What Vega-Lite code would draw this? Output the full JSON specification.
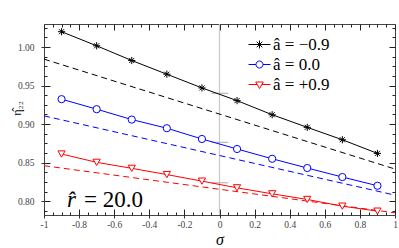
{
  "$schema": "https://vega.github.io/schema/vega-lite/v6.json",
  "width": 351,
  "height": 191,
  "autosize": {"type": "none"},
  "padding": {"left": 44, "top": 24, "right": 4, "bottom": 33},
  "background": "white",
  "config": {
    "view": {"stroke": "#444", "strokeWidth": 1},
    "axis": {"labelFont": "Liberation Serif", "titleFont": "Liberation Serif", "labelColor": "#444", "grid": false, "domain": false, "tickColor": "#333", "tickWidth": 1, "ticks": true, "zindex": 1}
  },
  "resolve": {"axis": {"x": "independent", "y": "independent"}, "scale": {"shape": "independent", "color": "independent"}},
  "datasets": {
    "curves": [
      {"series": "â = −0.9", "sigma": -0.9, "eta": 1.020},
      {"series": "â = −0.9", "sigma": -0.7, "eta": 1.0017},
      {"series": "â = −0.9", "sigma": -0.5, "eta": 0.9826},
      {"series": "â = −0.9", "sigma": -0.3, "eta": 0.9648},
      {"series": "â = −0.9", "sigma": -0.1, "eta": 0.947},
      {"series": "â = −0.9", "sigma": 0.1, "eta": 0.9305},
      {"series": "â = −0.9", "sigma": 0.3, "eta": 0.9122},
      {"series": "â = −0.9", "sigma": 0.5, "eta": 0.8958},
      {"series": "â = −0.9", "sigma": 0.7, "eta": 0.8797},
      {"series": "â = −0.9", "sigma": 0.9, "eta": 0.862},
      {"series": "â = 0.0", "sigma": -0.9, "eta": 0.9324},
      {"series": "â = 0.0", "sigma": -0.7, "eta": 0.9194},
      {"series": "â = 0.0", "sigma": -0.5, "eta": 0.9059},
      {"series": "â = 0.0", "sigma": -0.3, "eta": 0.8947},
      {"series": "â = 0.0", "sigma": -0.1, "eta": 0.8807},
      {"series": "â = 0.0", "sigma": 0.1, "eta": 0.8677},
      {"series": "â = 0.0", "sigma": 0.3, "eta": 0.855},
      {"series": "â = 0.0", "sigma": 0.5, "eta": 0.843},
      {"series": "â = 0.0", "sigma": 0.7, "eta": 0.8313},
      {"series": "â = 0.0", "sigma": 0.9, "eta": 0.820},
      {"series": "â = +0.9", "sigma": -0.9, "eta": 0.8612},
      {"series": "â = +0.9", "sigma": -0.7, "eta": 0.8504},
      {"series": "â = +0.9", "sigma": -0.5, "eta": 0.8426},
      {"series": "â = +0.9", "sigma": -0.3, "eta": 0.8345},
      {"series": "â = +0.9", "sigma": -0.1, "eta": 0.826},
      {"series": "â = +0.9", "sigma": 0.1, "eta": 0.8173},
      {"series": "â = +0.9", "sigma": 0.3, "eta": 0.8095},
      {"series": "â = +0.9", "sigma": 0.5, "eta": 0.8022},
      {"series": "â = +0.9", "sigma": 0.7, "eta": 0.7935},
      {"series": "â = +0.9", "sigma": 0.9, "eta": 0.787}
    ],
    "approx": [
      {"series": "â = −0.9", "sigma": -1, "eta": 0.9844},
      {"series": "â = −0.9", "sigma": 1, "eta": 0.8417},
      {"series": "â = 0.0", "sigma": -1, "eta": 0.9107},
      {"series": "â = 0.0", "sigma": 1, "eta": 0.8078},
      {"series": "â = +0.9", "sigma": -1, "eta": 0.846},
      {"series": "â = +0.9", "sigma": 1, "eta": 0.7848}
    ],
    "marks0": [
      {"a": -0.045, "b": 0.05, "eta": 0.9401},
      {"a": -0.045, "b": 0.05, "eta": 0.8764},
      {"a": -0.045, "b": 0.05, "eta": 0.8238}
    ],
    "zero": [{"sigma": 0}]
  },
  "layer": [
    {
      "data": {"name": "zero"},
      "mark": {"type": "rule", "color": "#c8c8c8", "strokeWidth": 1.2},
      "encoding": {
        "x": {"field": "sigma", "type": "quantitative", "scale": {"domain": [-1, 1], "nice": false, "zero": false}, "axis": null}
      }
    },
    {
      "data": {"name": "marks0"},
      "mark": {"type": "rule", "color": "#aaaaaa", "strokeWidth": 1},
      "encoding": {
        "x": {"field": "a", "type": "quantitative",
          "axis": {"orient": "bottom", "values": [-1,-0.8,-0.6,-0.4,-0.2,0,0.2,0.4,0.6,0.8,1], "ticks": true, "tickSize": 3, "tickColor": "#333",
            "labelExpr": "replace(format(datum.value, '.1~f'), '\u2212', '-')",
            "labelFontSize": 9.5, "labelPadding": 1, "labelOverlap": false, "labelFlush": false,
            "title": "σ", "titleFontSize": 16, "titleFontStyle": "italic", "titleFontWeight": "normal", "titleColor": "#000", "titlePadding": 3}},
        "x2": {"field": "b"},
        "y": {"field": "eta", "type": "quantitative", "scale": {"domain": [0.782, 1.03], "nice": false, "zero": false},
          "axis": {"orient": "left", "values": [0.8, 0.85, 0.9, 0.95, 1.0], "ticks": true, "tickSize": 3, "tickColor": "#333", "format": ".2f",
            "labelFontSize": 9.5, "labelPadding": 7, "labelOverlap": false, "labelFlush": false,
            "title": "η̂₂₂", "titleFontSize": 12, "titleFontWeight": "normal", "titleColor": "#000", "titleX": -21, "titleY": 84}}
      }
    },
    {
      "data": {"name": "approx"},
      "mark": {"type": "line", "strokeWidth": 1, "strokeDash": [6, 4]},
      "encoding": {
        "x": {"field": "sigma", "type": "quantitative",
          "axis": {"orient": "bottom", "values": [-1,-0.8,-0.6,-0.4,-0.2,0,0.2,0.4,0.6,0.8,1], "labels": false, "title": null, "ticks": true, "tickSize": 6, "offset": -6, "tickColor": "#222"}},
        "y": {"field": "eta", "type": "quantitative",
          "axis": {"orient": "left", "values": [0.8, 0.85, 0.9, 0.95, 1.0], "labels": false, "title": null, "ticks": true, "tickSize": 6, "offset": -6, "tickColor": "#222"}},
        "color": {"field": "series", "type": "nominal",
          "scale": {"domain": ["â = −0.9", "â = 0.0", "â = +0.9"], "range": ["#000000", "#0000ff", "#ff0000"]}, "legend": null},
        "detail": {"field": "series"}
      }
    },
    {
      "data": {"name": "curves"},
      "mark": {"type": "line", "strokeWidth": 1},
      "encoding": {
        "x": {"field": "sigma", "type": "quantitative",
          "axis": {"orient": "bottom", "values": [-0.95,-0.9,-0.85,-0.75,-0.7,-0.65,-0.55,-0.5,-0.45,-0.35,-0.3,-0.25,-0.15,-0.1,-0.05,0.05,0.1,0.15,0.25,0.3,0.35,0.45,0.5,0.55,0.65,0.7,0.75,0.85,0.9,0.95], "labels": false, "title": null, "ticks": true, "tickSize": 3, "offset": -3, "tickColor": "#222"}},
        "y": {"field": "eta", "type": "quantitative",
          "axis": {"orient": "left", "values": [0.7875,0.8125,0.825,0.8375,0.8625,0.875,0.8875,0.9125,0.925,0.9375,0.9625,0.975,0.9875,1.0125,1.025], "labels": false, "title": null, "ticks": true, "tickSize": 3, "offset": -3, "tickColor": "#222"}},
        "color": {"field": "series", "type": "nominal",
          "scale": {"domain": ["â = −0.9", "â = 0.0", "â = +0.9"], "range": ["#000000", "#0000ff", "#ff0000"]}, "legend": null},
        "detail": {"field": "series"}
      }
    },
    {
      "data": {"name": "curves"},
      "mark": {"type": "point", "filled": false, "fill": "white", "size": 52, "strokeWidth": 1, "opacity": 1},
      "encoding": {
        "x": {"field": "sigma", "type": "quantitative",
          "axis": {"orient": "top", "values": [-1,-0.8,-0.6,-0.4,-0.2,0,0.2,0.4,0.6,0.8,1], "labels": false, "title": null, "ticks": true, "tickSize": 6, "offset": -6, "tickColor": "#222"}},
        "y": {"field": "eta", "type": "quantitative",
          "axis": {"orient": "right", "values": [0.8, 0.85, 0.9, 0.95, 1.0], "labels": false, "title": null, "ticks": true, "tickSize": 6, "offset": -6, "tickColor": "#222"}},
        "color": {"field": "series", "type": "nominal",
          "scale": {"domain": ["â = −0.9", "â = 0.0", "â = +0.9"], "range": ["#000000", "#0000ff", "#ff0000"]},
          "legend": null},
        "shape": {"field": "series", "type": "nominal",
          "scale": {"domain": ["â = −0.9", "â = 0.0", "â = +0.9"], "range": ["M-1,0L1,0M0,-1L0,1M-0.7,-0.7L0.7,0.7M-0.7,0.7L0.7,-0.7", "circle", "triangle-down"]},
          "legend": null}
      }
    },
    {
      "data": {"name": "curves"},
      "mark": {"type": "point", "filled": false, "size": 400, "strokeWidth": 1, "opacity": 0},
      "encoding": {
        "x": {"field": "sigma", "type": "quantitative",
          "axis": {"orient": "top", "values": [-0.95,-0.9,-0.85,-0.75,-0.7,-0.65,-0.55,-0.5,-0.45,-0.35,-0.3,-0.25,-0.15,-0.1,-0.05,0.05,0.1,0.15,0.25,0.3,0.35,0.45,0.5,0.55,0.65,0.7,0.75,0.85,0.9,0.95], "labels": false, "title": null, "ticks": true, "tickSize": 3, "offset": -3, "tickColor": "#222"}},
        "y": {"field": "eta", "type": "quantitative",
          "axis": {"orient": "right", "values": [0.7875,0.8125,0.825,0.8375,0.8625,0.875,0.8875,0.9125,0.925,0.9375,0.9625,0.975,0.9875,1.0125,1.025], "labels": false, "title": null, "ticks": true, "tickSize": 3, "offset": -3, "tickColor": "#222"}},
        "color": {"field": "series", "type": "nominal",
          "scale": {"domain": ["â = −0.9", "â = 0.0", "â = +0.9"], "range": ["#000000", "#0000ff", "#ff0000"]},
          "legend": {"orient": "none", "legendX": 205, "legendY": 10, "title": null, "padding": 0,
            "labelFont": "Liberation Serif", "labelFontSize": 17, "labelColor": "#000", "labelOffset": 3,
            "symbolSize": 400, "symbolStrokeWidth": 1, "symbolOpacity": 1, "rowPadding": 1}},
        "shape": {"field": "series", "type": "nominal",
          "scale": {"domain": ["â = −0.9", "â = 0.0", "â = +0.9"], "range": [
            "M-1.1,0L1.1,0M0,-0.4L0,0.4M-0.28,-0.28L0.28,0.28M-0.28,0.28L0.28,-0.28",
            "M-1.1,0L-0.35,0M0.35,0L1.1,0M0.35,0A0.35,0.35 0 1,1 -0.35,0A0.35,0.35 0 1,1 0.35,0",
            "M-1.1,0L-0.234,0M0.234,0L1.1,0M-0.38,-0.25L0.38,-0.25L0,0.4Z"]},
          "legend": {"orient": "none", "legendX": 205, "legendY": 10, "title": null, "padding": 0,
            "labelFont": "Liberation Serif", "labelFontSize": 17, "labelColor": "#000", "labelOffset": 3,
            "symbolSize": 400, "symbolStrokeWidth": 1, "symbolOpacity": 1, "rowPadding": 1}}
      }
    },
    {
      "data": {"values": [{"sigma": -0.869, "eta": 0.7922, "t": "r̂"}]},
      "mark": {"type": "text", "font": "Liberation Serif", "fontSize": 23, "fontStyle": "italic", "align": "left", "baseline": "alphabetic", "color": "#000"},
      "encoding": {
        "x": {"field": "sigma", "type": "quantitative", "axis": null},
        "y": {"field": "eta", "type": "quantitative", "axis": null},
        "text": {"field": "t"}
      }
    },
    {
      "data": {"values": [{"sigma": -0.772, "eta": 0.7922, "t": "= 20.0"}]},
      "mark": {"type": "text", "font": "Liberation Serif", "fontSize": 23, "align": "left", "baseline": "alphabetic", "color": "#000"},
      "encoding": {
        "x": {"field": "sigma", "type": "quantitative", "axis": null},
        "y": {"field": "eta", "type": "quantitative", "axis": null},
        "text": {"field": "t"}
      }
    }
  ]
}
